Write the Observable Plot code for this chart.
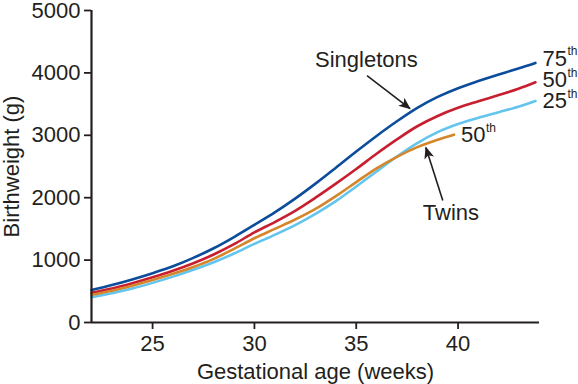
<!DOCTYPE html>
<html>
<head>
<meta charset="utf-8">
<script src="https://cdn.jsdelivr.net/npm/d3@7"></script>
<script src="https://cdn.jsdelivr.net/npm/@observablehq/plot@0.6"></script>
<style>
  html, body { margin: 0; padding: 0; background: #fff; }
  #chart svg { display: block; }
</style>
</head>
<body>
<div id="chart"></div>
<script>
// Singleton percentiles (g) by gestational week
const weeks = [22,23,24,25,26,27,28,29,30,31,32,33,34,35,36,37,38,39,40,41,42,43,43.8];
const p75 = [520,600,690,790,900,1035,1190,1370,1565,1765,1985,2225,2480,2740,2990,3225,3440,3615,3755,3870,3975,4075,4160];
const p50 = [476,545,630,725,830,950,1090,1255,1445,1610,1790,2000,2225,2460,2705,2935,3145,3310,3440,3545,3645,3750,3850];
const p25 = [406,470,545,635,735,845,965,1105,1260,1405,1560,1740,1945,2180,2420,2660,2875,3050,3180,3280,3370,3460,3550];
// Twins 50th percentile
const twinWeeks = [22,23,24,25,26,27,28,29,30,31,32,33,34,35,36,37,38,39,39.8];
const twin50 = [444,510,590,680,780,890,1020,1180,1350,1500,1650,1820,2025,2250,2470,2655,2810,2930,3010];

const xTicks = [25,30,35,40];
const yTicks = [0,1000,2000,3000,4000,5000];

const seriesNames = ["75th", "50th", "25th", "Twins 50th"];
const seriesColors = ["#0b4c9b", "#c81f30", "#63c5ee", "#d5862a"];

const rows = [
  ...weeks.map((w, i) => ({week: w, weight: p75[i], series: "75th"})),
  ...weeks.map((w, i) => ({week: w, weight: p50[i], series: "50th"})),
  ...weeks.map((w, i) => ({week: w, weight: p25[i], series: "25th"})),
  ...twinWeeks.map((w, i) => ({week: w, weight: twin50[i], series: "Twins 50th"}))
];

// End labels (number + superscript)
const endLabels = [
  {week: 43.8, weight: 4230, num: "75"},
  {week: 43.8, weight: 3880, num: "50"},
  {week: 43.8, weight: 3545, num: "25"},
  {week: 39.8, weight: 3005, num: "50"}
];

// Annotations
const notes = [
  {week: 35.5, weight: 4215, text: "Singletons"},
  {week: 39.65, weight: 1763, text: "Twins"}
];
const pointers = [
  {x1: 35.53, y1: 3958, x2: 37.64, y2: 3429},
  {x1: 39.25, y1: 1955, x2: 38.42, y2: 2804}
];

const font = "'Liberation Sans', Arial, Helvetica, sans-serif";

const chart = Plot.plot({
  width: 578,
  height: 384,
  marginLeft: 91,
  marginRight: 39,
  marginTop: 10,
  marginBottom: 62,
  style: {fontFamily: font, fontSize: "22px", color: "#231f20", background: "#fff"},
  x: {domain: [22, 44], ticks: xTicks, tickSize: 7, tickPadding: 6, label: "Gestational age (weeks)", labelAnchor: "center", labelOffset: 56, labelArrow: false},
  y: {domain: [0, 5000], ticks: yTicks, tickFormat: d3.format("d"), tickSize: 7, tickPadding: 4, label: "Birthweight (g)", labelAnchor: "center", labelOffset: 88, labelArrow: false},
  color: {domain: seriesNames, range: seriesColors},
  marks: [
    Plot.line(rows, {x: "week", y: "weight", z: "series", stroke: "series", strokeWidth: 2.6, curve: "catmull-rom"}),
    Plot.ruleX([22], {stroke: "#231f20", strokeWidth: 2.2}),
    Plot.ruleY([0], {stroke: "#231f20", strokeWidth: 2.2}),
    Plot.text(endLabels, {x: "week", y: "weight", text: "num", textAnchor: "start", dx: 7, fontSize: 22, fill: "#231f20"}),
    Plot.text(endLabels, {x: "week", y: "weight", text: () => "th", textAnchor: "start", dx: 32, dy: -7, fontSize: 12, fill: "#231f20"}),
    Plot.text(notes, {x: "week", y: "weight", text: "text", fontSize: 22, fill: "#231f20"}),
    Plot.link(pointers, {x1: "x1", y1: "y1", x2: "x2", y2: "y2", stroke: "#231f20", strokeWidth: 1.6})
  ]
});

// filled arrowheads on pointer links
const svg = d3.select(chart.tagName.toLowerCase() === "svg" ? chart : chart.querySelector("svg"));
svg.append("defs").append("marker")
  .attr("id", "ahead")
  .attr("viewBox", "0 0 12 10")
  .attr("refX", 11)
  .attr("refY", 5)
  .attr("markerUnits", "userSpaceOnUse")
  .attr("markerWidth", 14)
  .attr("markerHeight", 10)
  .attr("orient", "auto")
  .append("path")
  .attr("d", "M0,0 L12,5 L0,10 L3,5 Z")
  .attr("fill", "#231f20");
svg.selectAll('g[aria-label="link"] path').attr("marker-end", "url(#ahead)");
// axis tick strokes
svg.selectAll('g[aria-label="x-axis tick"] path, g[aria-label="y-axis tick"] path').attr("stroke-width", 1.8);

document.getElementById("chart").appendChild(chart);
</script>
</body>
</html>
